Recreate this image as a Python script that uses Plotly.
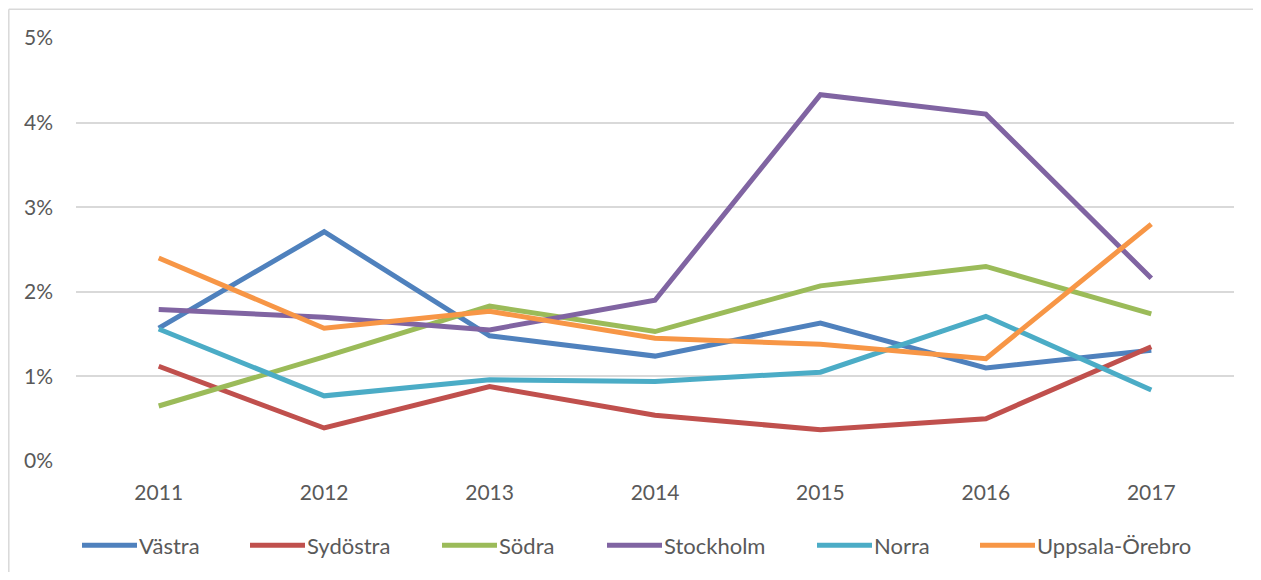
import plotly.graph_objects as go

years = ["2011", "2012", "2013", "2014", "2015", "2016", "2017"]
series_names = ["Västra", "Sydöstra", "Södra", "Stockholm", "Norra", "Uppsala-Örebro"]
vastra = [0.0157, 0.0271, 0.0148, 0.0124, 0.0163, 0.0110, 0.0131]
sydostra = [0.0112, 0.0039, 0.0088, 0.0054, 0.0037, 0.0050, 0.0135]
sodra = [0.0065, 0.0123, 0.0183, 0.0153, 0.0207, 0.0230, 0.0174]
stockholm = [0.0179, 0.0170, 0.0155, 0.0190, 0.0433, 0.0410, 0.0216]
norra = [0.0156, 0.0077, 0.0096, 0.0094, 0.0105, 0.0171, 0.0084]
uppsala = [0.0240, 0.0157, 0.0177, 0.0145, 0.0138, 0.0121, 0.0280]
y_ticks = [0, 0.01, 0.02, 0.03, 0.04, 0.05]
y_tick_labels = ["0%", "1%", "2%", "3%", "4%", "5%"]

colors = ["#4F81BD", "#C0504D", "#9BBB59", "#8064A2", "#4BACC6", "#F79646"]
all_series = [vastra, sydostra, sodra, stockholm, norra, uppsala]

# page body has an 8px margin; figure sized to fit the 1261x580 window
OFF = 8
W, H = 1261 - 2 * OFF, 580 - 2 * OFF
# plot area in screen coordinates
SX0, SX1, SY0, SY1 = 76, 1234, 37.5, 461.5
L, R = SX0 - OFF, W - (SX1 - OFF)
T, B = SY0 - OFF, H - (SY1 - OFF)
pw, ph = SX1 - SX0, SY1 - SY0

def px(x):
    return (x - SX0) / pw

def py(y):
    return (SY1 - y) / ph

fig = go.Figure()
for name, vals, c in zip(series_names, all_series, colors):
    fig.add_trace(go.Scatter(x=years, y=vals, name=name, mode="lines",
                             line=dict(color=c, width=5), showlegend=False))

font = "Lato, 'Open Sans', sans-serif"
txt_color = "#595959"
tick_size = 21
leg_size = 22
shapes = []
annotations = []
# custom legend (Excel-style long line samples)
leg_x = [82, 250, 442, 607, 817, 980]
leg_y = 546
for name, c, x0 in zip(series_names, colors, leg_x):
    shapes.append(dict(type="line", xref="paper", yref="paper",
                       x0=px(x0), x1=px(x0 + 55), y0=py(leg_y), y1=py(leg_y),
                       line=dict(color=c, width=5)))
    annotations.append(dict(xref="paper", yref="paper", x=px(x0 + 55), y=py(leg_y),
                            text=name, showarrow=False, xanchor="left", yanchor="middle",
                            font=dict(family=font, size=leg_size, color=txt_color)))
# chart border (top and left visible)
shapes.append(dict(type="line", xref="paper", yref="paper", x0=px(8.8), x1=px(1261),
                   y0=py(8.8), y1=py(8.8), line=dict(color="#D9D9D9", width=1.5)))
shapes.append(dict(type="line", xref="paper", yref="paper", x0=px(8.8), x1=px(8.8),
                   y0=py(8.8), y1=py(580), line=dict(color="#D9D9D9", width=1.5)))

fig.update_layout(
    width=W, height=H,
    margin=dict(l=L, r=R, t=T, b=B),
    plot_bgcolor="white", paper_bgcolor="white",
    font=dict(family=font, size=tick_size, color=txt_color),
    shapes=shapes, annotations=annotations,
    xaxis=dict(type="category", range=[-0.5, 6.5], showgrid=False, zeroline=False,
               showline=False, ticks="", ticklabelstandoff=17,
               tickfont=dict(family=font, size=tick_size, color=txt_color)),
    yaxis=dict(range=[0, 0.05], tickvals=y_ticks, ticktext=y_tick_labels,
               showgrid=True, gridcolor="#D9D9D9", gridwidth=1.5, zeroline=False,
               showline=False, ticks="", ticklabelstandoff=22,
               tickfont=dict(family=font, size=tick_size, color=txt_color)),
    showlegend=False,
)

fig.write_html("out.html")
